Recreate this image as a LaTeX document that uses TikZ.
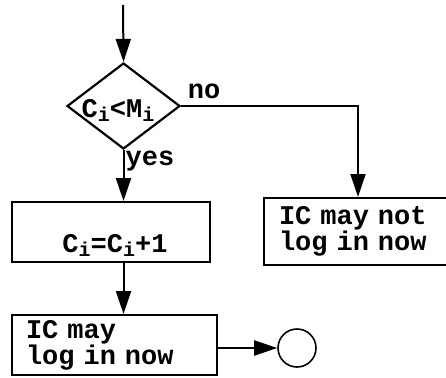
\documentclass[tikz,border=0pt]{standalone}
\usepackage{fontspec}
\setmonofont{Liberation Mono}
\usetikzlibrary{arrows.meta,positioning,shapes.geometric}
\newcommand\subi[1]{\raisebox{-4pt}{\fontsize{20}{20}\selectfont #1}}

\tikzset{
  flowfont/.style={font=\ttfamily\bfseries\fontsize{27}{24}\selectfont},
  box/.style={draw,line width=2pt,rectangle,inner ysep=0pt,align=left,flowfont},
  decision/.style={draw,line width=2.2pt,diamond,inner sep=0pt,
    minimum width=113pt,minimum height=86pt,flowfont},
  flow/.style={-{Triangle[length=23pt,width=15pt]},line width=2pt},
  tag/.style={flowfont,inner sep=0pt},
}

\begin{document}
\begin{tikzpicture}[x=1pt,y=-1pt]
  \useasboundingbox (0,0) rectangle (446,377);
  \coordinate (start) at (123,5);
  \node[decision] (test) at (123.5,106) {};
  \node[tag] (testtxt) at (118,110) {C\subi{i}<M\subi{i}};
  \node[box,minimum width=198pt,minimum height=60pt,inner xsep=0pt,
    text height=44pt,text depth=4pt] (incr) at (111,232)
    {\hspace*{8pt}C\subi{i}=C\subi{i}+1};
  \node[box,text width=158pt,inner xsep=15pt,minimum height=67pt] (nobox) at (358,231.5)
    {IC may not\\log in now};
  \node[box,text width=177pt,inner xsep=14pt,minimum height=60pt] (done) at (114.5,345)
    {IC may\\log in now};
  \node[draw,line width=1.6pt,circle,minimum size=38pt,inner sep=0pt] (stop) at (297,348) {};
  \node[tag] (nolbl) at (204,91) {no};
  \node[tag] (yeslbl) at (150,161) {yes};

  \draw[flow] (start) -- (test.north);
  \draw[flow] (test.east) -| (nobox.north);
  \draw[flow] (test.south) -- (test.south |- incr.north);
  \draw[flow] (incr.south -| test.south) -- (test.south |- done.north);
  \draw[flow] (done.east |- stop.west) -- (stop.west);
\end{tikzpicture}
\end{document}
